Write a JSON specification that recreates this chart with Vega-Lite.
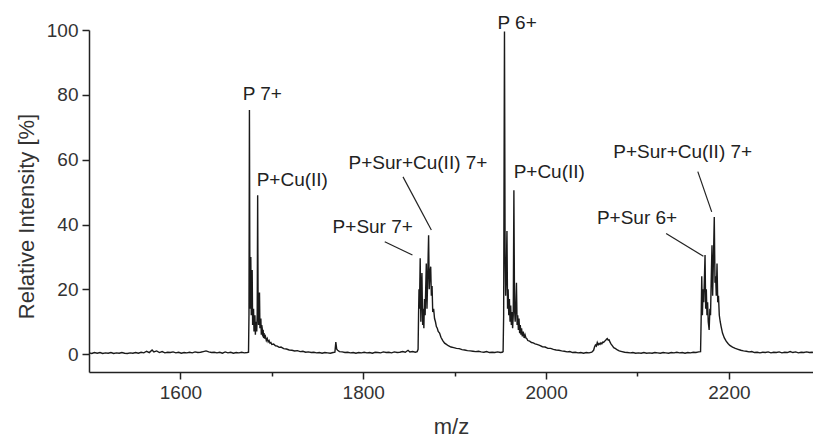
{
  "$schema": "https://vega.github.io/schema/vega-lite/v6.json",
  "width": 724,
  "height": 342,
  "autosize": {"type": "none"},
  "padding": {"left": 89, "top": 30, "right": 0, "bottom": 66},
  "background": "white",
  "datasets": {
    "spectrum": [
      {"mz": 1500, "i": 0.4}, {"mz": 1503, "i": 0.2}, {"mz": 1506, "i": 0.5}, {"mz": 1509, "i": 0.3}, {"mz": 1512, "i": 0.5},
      {"mz": 1515, "i": 0.2}, {"mz": 1518, "i": 0.4}, {"mz": 1521, "i": 0.3}, {"mz": 1524, "i": 0.5}, {"mz": 1527, "i": 0.2},
      {"mz": 1530, "i": 0.4}, {"mz": 1533, "i": 0.3}, {"mz": 1536, "i": 0.5}, {"mz": 1539, "i": 0.3}, {"mz": 1542, "i": 0.2},
      {"mz": 1545, "i": 0.4}, {"mz": 1548, "i": 0.3}, {"mz": 1551, "i": 0.5}, {"mz": 1554, "i": 0.3}, {"mz": 1557, "i": 0.6},
      {"mz": 1560, "i": 0.4}, {"mz": 1563, "i": 0.9}, {"mz": 1566, "i": 0.5}, {"mz": 1569, "i": 1.3}, {"mz": 1571, "i": 0.7},
      {"mz": 1574, "i": 1.0}, {"mz": 1577, "i": 0.5}, {"mz": 1580, "i": 0.8}, {"mz": 1583, "i": 0.4}, {"mz": 1586, "i": 0.6},
      {"mz": 1589, "i": 0.5}, {"mz": 1592, "i": 0.7}, {"mz": 1595, "i": 0.4}, {"mz": 1598, "i": 0.6}, {"mz": 1601, "i": 0.3},
      {"mz": 1604, "i": 0.5}, {"mz": 1607, "i": 0.4}, {"mz": 1610, "i": 0.6}, {"mz": 1613, "i": 0.4}, {"mz": 1616, "i": 0.7},
      {"mz": 1619, "i": 0.5}, {"mz": 1622, "i": 0.6}, {"mz": 1625, "i": 0.8}, {"mz": 1628, "i": 1.0}, {"mz": 1631, "i": 0.7},
      {"mz": 1634, "i": 0.5}, {"mz": 1637, "i": 0.6}, {"mz": 1640, "i": 0.4}, {"mz": 1643, "i": 0.6}, {"mz": 1646, "i": 0.3},
      {"mz": 1649, "i": 0.7}, {"mz": 1652, "i": 0.4}, {"mz": 1655, "i": 0.6}, {"mz": 1658, "i": 0.3}, {"mz": 1661, "i": 0.5},
      {"mz": 1664, "i": 0.4}, {"mz": 1667, "i": 0.6}, {"mz": 1670, "i": 0.4}, {"mz": 1673, "i": 0.5}, {"mz": 1674.5, "i": 0.6},
      {"mz": 1675, "i": 12}, {"mz": 1675.5, "i": 75.3}, {"mz": 1676, "i": 22}, {"mz": 1676.5, "i": 14}, {"mz": 1677, "i": 30},
      {"mz": 1677.5, "i": 12}, {"mz": 1678, "i": 16}, {"mz": 1678.5, "i": 26}, {"mz": 1679, "i": 9}, {"mz": 1679.5, "i": 12},
      {"mz": 1680, "i": 14}, {"mz": 1680.5, "i": 7}, {"mz": 1681, "i": 11}, {"mz": 1681.5, "i": 12}, {"mz": 1682, "i": 6},
      {"mz": 1682.5, "i": 9}, {"mz": 1683, "i": 10}, {"mz": 1683.5, "i": 7}, {"mz": 1684, "i": 12}, {"mz": 1684.5, "i": 49},
      {"mz": 1685, "i": 14}, {"mz": 1685.5, "i": 9}, {"mz": 1686, "i": 13}, {"mz": 1686.5, "i": 19}, {"mz": 1687, "i": 8},
      {"mz": 1687.5, "i": 10}, {"mz": 1688, "i": 11}, {"mz": 1688.5, "i": 6}, {"mz": 1689, "i": 9}, {"mz": 1689.5, "i": 8},
      {"mz": 1690, "i": 5.5}, {"mz": 1690.5, "i": 7.5}, {"mz": 1691, "i": 5}, {"mz": 1691.5, "i": 6.5}, {"mz": 1692, "i": 4.8},
      {"mz": 1693, "i": 5.5}, {"mz": 1694, "i": 4.2}, {"mz": 1695, "i": 4.8}, {"mz": 1696, "i": 3.8}, {"mz": 1697, "i": 4.2},
      {"mz": 1698, "i": 3.4}, {"mz": 1699, "i": 3.6}, {"mz": 1700, "i": 3.0}, {"mz": 1702, "i": 3.1}, {"mz": 1704, "i": 2.6},
      {"mz": 1706, "i": 2.5}, {"mz": 1708, "i": 2.1}, {"mz": 1710, "i": 2.2}, {"mz": 1713, "i": 1.7}, {"mz": 1716, "i": 1.6},
      {"mz": 1719, "i": 1.3}, {"mz": 1722, "i": 1.2}, {"mz": 1725, "i": 1.0}, {"mz": 1728, "i": 1.1}, {"mz": 1731, "i": 0.8},
      {"mz": 1734, "i": 0.9}, {"mz": 1737, "i": 0.6}, {"mz": 1740, "i": 0.7}, {"mz": 1743, "i": 0.5}, {"mz": 1746, "i": 0.6},
      {"mz": 1749, "i": 0.4}, {"mz": 1752, "i": 0.5}, {"mz": 1755, "i": 0.3}, {"mz": 1758, "i": 0.5}, {"mz": 1761, "i": 0.4},
      {"mz": 1764, "i": 0.3}, {"mz": 1767, "i": 0.5}, {"mz": 1769, "i": 0.6}, {"mz": 1770, "i": 3.7}, {"mz": 1771, "i": 1.5},
      {"mz": 1772, "i": 1.2}, {"mz": 1774, "i": 0.8}, {"mz": 1777, "i": 0.7}, {"mz": 1780, "i": 0.5}, {"mz": 1783, "i": 0.6},
      {"mz": 1786, "i": 0.4}, {"mz": 1789, "i": 0.5}, {"mz": 1792, "i": 0.3}, {"mz": 1795, "i": 0.5}, {"mz": 1798, "i": 0.4},
      {"mz": 1801, "i": 0.6}, {"mz": 1804, "i": 0.4}, {"mz": 1807, "i": 0.5}, {"mz": 1810, "i": 0.3}, {"mz": 1813, "i": 0.6},
      {"mz": 1816, "i": 0.5}, {"mz": 1819, "i": 0.4}, {"mz": 1822, "i": 0.7}, {"mz": 1825, "i": 0.5}, {"mz": 1828, "i": 0.6},
      {"mz": 1831, "i": 0.4}, {"mz": 1834, "i": 0.7}, {"mz": 1837, "i": 0.5}, {"mz": 1840, "i": 0.6}, {"mz": 1843, "i": 0.8},
      {"mz": 1846, "i": 0.6}, {"mz": 1849, "i": 1.2}, {"mz": 1851, "i": 0.7}, {"mz": 1854, "i": 0.8}, {"mz": 1857, "i": 0.6},
      {"mz": 1859, "i": 0.8}, {"mz": 1860, "i": 1.5}, {"mz": 1860.5, "i": 12}, {"mz": 1861, "i": 20}, {"mz": 1861.5, "i": 14},
      {"mz": 1862.3, "i": 29.6}, {"mz": 1863, "i": 10}, {"mz": 1863.5, "i": 18}, {"mz": 1864.2, "i": 25}, {"mz": 1865, "i": 9},
      {"mz": 1865.6, "i": 14}, {"mz": 1866.3, "i": 8}, {"mz": 1867, "i": 17}, {"mz": 1867.7, "i": 12}, {"mz": 1868.3, "i": 20},
      {"mz": 1869, "i": 28}, {"mz": 1869.7, "i": 14}, {"mz": 1870.4, "i": 22}, {"mz": 1871.5, "i": 36.7}, {"mz": 1872.2, "i": 20},
      {"mz": 1873, "i": 25}, {"mz": 1873.8, "i": 27}, {"mz": 1874.5, "i": 18}, {"mz": 1875.3, "i": 21}, {"mz": 1876, "i": 13},
      {"mz": 1877, "i": 14}, {"mz": 1878, "i": 11}, {"mz": 1879, "i": 10}, {"mz": 1880, "i": 8.5}, {"mz": 1881, "i": 8},
      {"mz": 1882, "i": 7}, {"mz": 1883.5, "i": 6.5}, {"mz": 1885, "i": 5.2}, {"mz": 1887, "i": 4.2}, {"mz": 1889, "i": 3.4},
      {"mz": 1891, "i": 3.0}, {"mz": 1893, "i": 2.6}, {"mz": 1896, "i": 2.2}, {"mz": 1899, "i": 2.0}, {"mz": 1902, "i": 1.8},
      {"mz": 1905, "i": 1.7}, {"mz": 1908, "i": 1.4}, {"mz": 1911, "i": 1.3}, {"mz": 1914, "i": 1.1}, {"mz": 1917, "i": 1.0},
      {"mz": 1920, "i": 0.9}, {"mz": 1923, "i": 0.8}, {"mz": 1926, "i": 0.9}, {"mz": 1929, "i": 0.7}, {"mz": 1932, "i": 0.6},
      {"mz": 1935, "i": 0.8}, {"mz": 1938, "i": 0.5}, {"mz": 1941, "i": 0.6}, {"mz": 1944, "i": 0.5}, {"mz": 1947, "i": 0.7},
      {"mz": 1950, "i": 0.5}, {"mz": 1952, "i": 0.6}, {"mz": 1953, "i": 0.8}, {"mz": 1953.6, "i": 12}, {"mz": 1954.5, "i": 99.5},
      {"mz": 1955.2, "i": 30}, {"mz": 1955.8, "i": 18}, {"mz": 1956.5, "i": 25}, {"mz": 1957.2, "i": 38}, {"mz": 1957.9, "i": 14},
      {"mz": 1958.5, "i": 20}, {"mz": 1959.2, "i": 12}, {"mz": 1959.9, "i": 17}, {"mz": 1960.6, "i": 10}, {"mz": 1961.3, "i": 15},
      {"mz": 1962, "i": 9}, {"mz": 1962.7, "i": 13}, {"mz": 1963.4, "i": 8}, {"mz": 1964.1, "i": 12}, {"mz": 1964.8, "i": 50.6},
      {"mz": 1965.5, "i": 14}, {"mz": 1966.2, "i": 10}, {"mz": 1966.9, "i": 15}, {"mz": 1967.6, "i": 22}, {"mz": 1968.3, "i": 9},
      {"mz": 1969, "i": 12}, {"mz": 1969.7, "i": 7.5}, {"mz": 1970.4, "i": 11}, {"mz": 1971.1, "i": 6.5}, {"mz": 1971.8, "i": 9},
      {"mz": 1972.5, "i": 6}, {"mz": 1973.2, "i": 8}, {"mz": 1974, "i": 5.5}, {"mz": 1975, "i": 7}, {"mz": 1976, "i": 5},
      {"mz": 1977, "i": 6}, {"mz": 1978, "i": 5}, {"mz": 1979, "i": 4.8}, {"mz": 1980, "i": 4.2}, {"mz": 1982, "i": 4.0},
      {"mz": 1984, "i": 3.6}, {"mz": 1986, "i": 3.5}, {"mz": 1988, "i": 3.2}, {"mz": 1990, "i": 3.0}, {"mz": 1993, "i": 2.7},
      {"mz": 1996, "i": 2.3}, {"mz": 1999, "i": 2.2}, {"mz": 2002, "i": 1.8}, {"mz": 2005, "i": 1.8}, {"mz": 2008, "i": 1.5},
      {"mz": 2011, "i": 1.3}, {"mz": 2014, "i": 1.2}, {"mz": 2017, "i": 1.0}, {"mz": 2020, "i": 0.9}, {"mz": 2023, "i": 0.7},
      {"mz": 2026, "i": 0.8}, {"mz": 2029, "i": 0.5}, {"mz": 2032, "i": 0.6}, {"mz": 2035, "i": 0.4}, {"mz": 2038, "i": 0.5},
      {"mz": 2041, "i": 0.3}, {"mz": 2044, "i": 0.5}, {"mz": 2047, "i": 0.4}, {"mz": 2050, "i": 0.6}, {"mz": 2052, "i": 1.2},
      {"mz": 2053, "i": 2.2}, {"mz": 2054, "i": 2.8}, {"mz": 2055, "i": 2.5}, {"mz": 2056, "i": 3.6}, {"mz": 2057, "i": 2.9},
      {"mz": 2058, "i": 3.3}, {"mz": 2059, "i": 3.0}, {"mz": 2060, "i": 3.5}, {"mz": 2061, "i": 3.2}, {"mz": 2062, "i": 3.7},
      {"mz": 2063, "i": 3.6}, {"mz": 2064, "i": 4.0}, {"mz": 2065, "i": 4.2}, {"mz": 2066, "i": 4.6}, {"mz": 2067, "i": 4.8},
      {"mz": 2068, "i": 4.3}, {"mz": 2069, "i": 4.4}, {"mz": 2070, "i": 3.7}, {"mz": 2071, "i": 3.2}, {"mz": 2072, "i": 2.8},
      {"mz": 2073, "i": 2.4}, {"mz": 2074, "i": 2.0}, {"mz": 2076, "i": 1.7}, {"mz": 2078, "i": 1.3}, {"mz": 2080, "i": 1.0},
      {"mz": 2083, "i": 0.8}, {"mz": 2086, "i": 0.6}, {"mz": 2089, "i": 0.5}, {"mz": 2092, "i": 0.4}, {"mz": 2095, "i": 0.5},
      {"mz": 2098, "i": 0.3}, {"mz": 2101, "i": 0.4}, {"mz": 2104, "i": 0.3}, {"mz": 2107, "i": 0.5}, {"mz": 2110, "i": 0.3},
      {"mz": 2113, "i": 0.4}, {"mz": 2116, "i": 0.3}, {"mz": 2119, "i": 0.5}, {"mz": 2122, "i": 0.4}, {"mz": 2125, "i": 0.3},
      {"mz": 2128, "i": 0.5}, {"mz": 2131, "i": 0.4}, {"mz": 2134, "i": 0.3}, {"mz": 2137, "i": 0.5}, {"mz": 2140, "i": 0.4},
      {"mz": 2143, "i": 0.6}, {"mz": 2146, "i": 0.4}, {"mz": 2149, "i": 0.5}, {"mz": 2152, "i": 0.3}, {"mz": 2155, "i": 0.5},
      {"mz": 2158, "i": 0.4}, {"mz": 2161, "i": 0.6}, {"mz": 2164, "i": 0.5}, {"mz": 2167, "i": 0.7}, {"mz": 2169, "i": 0.8},
      {"mz": 2169.6, "i": 10}, {"mz": 2170.3, "i": 24}, {"mz": 2171, "i": 12}, {"mz": 2171.8, "i": 20}, {"mz": 2172.5, "i": 16},
      {"mz": 2173.9, "i": 30.6}, {"mz": 2174.6, "i": 14}, {"mz": 2175.3, "i": 20}, {"mz": 2176, "i": 12}, {"mz": 2176.7, "i": 16},
      {"mz": 2177.4, "i": 10}, {"mz": 2178.4, "i": 7.5}, {"mz": 2179.2, "i": 14}, {"mz": 2179.9, "i": 12}, {"mz": 2180.6, "i": 22},
      {"mz": 2181.5, "i": 33.6}, {"mz": 2182.2, "i": 18}, {"mz": 2183, "i": 28}, {"mz": 2184, "i": 42.3}, {"mz": 2184.8, "i": 22},
      {"mz": 2185.5, "i": 24}, {"mz": 2186.2, "i": 18}, {"mz": 2187, "i": 28}, {"mz": 2187.8, "i": 16}, {"mz": 2188.6, "i": 18},
      {"mz": 2189.5, "i": 12}, {"mz": 2190.5, "i": 10}, {"mz": 2191.5, "i": 8.5}, {"mz": 2193, "i": 6.5}, {"mz": 2195, "i": 5.0},
      {"mz": 2197, "i": 4.0}, {"mz": 2199, "i": 3.3}, {"mz": 2201, "i": 2.7}, {"mz": 2204, "i": 2.2}, {"mz": 2207, "i": 1.8},
      {"mz": 2210, "i": 1.5}, {"mz": 2213, "i": 1.2}, {"mz": 2216, "i": 1.0}, {"mz": 2219, "i": 0.9}, {"mz": 2222, "i": 0.7},
      {"mz": 2225, "i": 0.8}, {"mz": 2228, "i": 0.5}, {"mz": 2231, "i": 0.6}, {"mz": 2234, "i": 0.4}, {"mz": 2237, "i": 0.6},
      {"mz": 2240, "i": 0.5}, {"mz": 2243, "i": 0.7}, {"mz": 2246, "i": 0.4}, {"mz": 2249, "i": 0.6}, {"mz": 2252, "i": 0.5},
      {"mz": 2255, "i": 0.7}, {"mz": 2258, "i": 0.4}, {"mz": 2261, "i": 0.6}, {"mz": 2264, "i": 0.5}, {"mz": 2267, "i": 0.8},
      {"mz": 2270, "i": 0.5}, {"mz": 2273, "i": 0.7}, {"mz": 2276, "i": 0.4}, {"mz": 2279, "i": 0.6}, {"mz": 2282, "i": 0.5},
      {"mz": 2285, "i": 0.7}, {"mz": 2288, "i": 0.5}, {"mz": 2291, "i": 0.6}, {"mz": 2292, "i": 0.5}
    ],
    "labels": [
      {"mz": 1689.6, "i": 80.2, "label": "P 7+"},
      {"mz": 1722.4, "i": 53.7, "label": "P+Cu(II)"},
      {"mz": 1810.4, "i": 39.3, "label": "P+Sur 7+"},
      {"mz": 1859.9, "i": 59.0, "label": "P+Sur+Cu(II) 7+"},
      {"mz": 1968.3, "i": 102.2, "label": "P 6+"},
      {"mz": 2003.5, "i": 56.3, "label": "P+Cu(II)"},
      {"mz": 2099.5, "i": 41.9, "label": "P+Sur 6+"},
      {"mz": 2149.5, "i": 62.4, "label": "P+Sur+Cu(II) 7+"}
    ],
    "leaders": [
      {"mz": 1823.5, "i": 34.7, "mz2": 1853.8, "i2": 30.6},
      {"mz": 1843.5, "i": 54.7, "mz2": 1874.5, "i2": 38.3},
      {"mz": 2131.3, "i": 37.2, "mz2": 2172.1, "i2": 30.2},
      {"mz": 2166.0, "i": 56.3, "mz2": 2181.2, "i2": 43.9}
    ]
  },
  "layer": [
    {
      "data": {"name": "spectrum"},
      "mark": {"type": "line", "color": "#1a1a1a", "strokeWidth": 1.4, "interpolate": "linear"},
      "encoding": {
        "x": {
          "field": "mz", "type": "quantitative",
          "scale": {"domain": [1500, 2292], "nice": false, "zero": false},
          "axis": {
            "values": [1600, 1700, 1800, 1900, 2000, 2100, 2200],
            "format": "d",
            "labelExpr": "datum.value % 200 === 0 ? datum.label : ''",
            "tickSize": {"condition": {"test": "datum.value % 200 === 0", "value": 7}, "value": 4},
            "title": "m/z"
          }
        },
        "y": {
          "field": "i", "type": "quantitative",
          "scale": {"domain": [-5.5, 100], "nice": false, "zero": false},
          "axis": {
            "values": [0, 10, 20, 30, 40, 50, 60, 70, 80, 90, 100],
            "labelExpr": "datum.value % 20 === 0 ? datum.label : ''",
            "tickSize": {"condition": {"test": "datum.value % 20 === 0", "value": 7}, "value": 4},
            "title": "Relative Intensity [%]",
            "titleY": 186
          }
        }
      }
    },
    {
      "data": {"name": "leaders"},
      "mark": {"type": "rule", "color": "#222", "strokeWidth": 1.2},
      "encoding": {
        "x": {"field": "mz", "type": "quantitative"},
        "y": {"field": "i", "type": "quantitative"},
        "x2": {"field": "mz2"},
        "y2": {"field": "i2"}
      }
    },
    {
      "data": {"name": "labels"},
      "mark": {"type": "text", "font": "Liberation Sans", "fontSize": 19, "color": "#222", "align": "center", "baseline": "middle"},
      "encoding": {
        "x": {"field": "mz", "type": "quantitative"},
        "y": {"field": "i", "type": "quantitative"},
        "text": {"field": "label"}
      }
    }
  ],
  "config": {
    "view": {"stroke": null},
    "axis": {
      "grid": false,
      "domainColor": "#222",
      "domainWidth": 1.5,
      "tickColor": "#222",
      "tickWidth": 1.5,
      "labelColor": "#333",
      "labelFont": "Liberation Sans",
      "labelFontSize": 19,
      "labelPadding": 4,
      "labelOverlap": false,
      "titleColor": "#333",
      "titleFont": "Liberation Sans",
      "titleFontSize": 22,
      "titleFontWeight": "normal"
    },
    "axisX": {"titlePadding": 14},
    "axisY": {"titlePadding": 8}
  }
}
